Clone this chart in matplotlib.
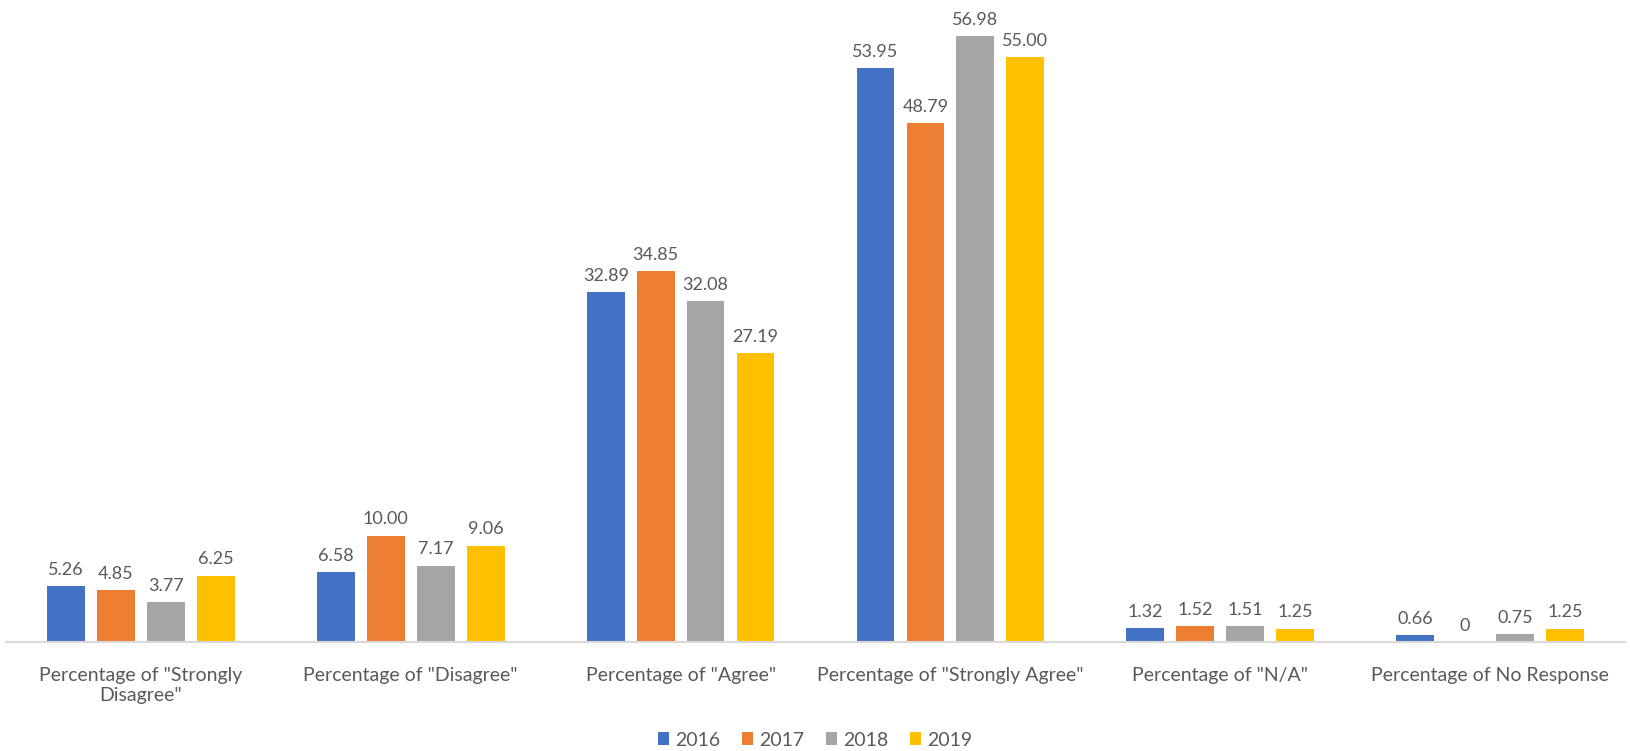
import numpy as np
import matplotlib.pyplot as plt

plt.rcParams['font.family'] = ['Lato', 'DejaVu Sans']

categories = ['Percentage of "Strongly\nDisagree"', 'Percentage of "Disagree"',
              'Percentage of "Agree"', 'Percentage of "Strongly Agree"',
              'Percentage of "N/A"', 'Percentage of No Response']
years = ['2016', '2017', '2018', '2019']
v2016 = [5.26, 6.58, 32.89, 53.95, 1.32, 0.66]
v2017 = [4.85, 10.00, 34.85, 48.79, 1.52, 0]
v2018 = [3.77, 7.17, 32.08, 56.98, 1.51, 0.75]
v2019 = [6.25, 9.06, 27.19, 55.00, 1.25, 1.25]
labels2017 = ['4.85', '10.00', '34.85', '48.79', '1.52', '0']

series = [v2016, v2017, v2018, v2019]
colors = ['#4472C4', '#ED7D31', '#A5A5A5', '#FFC000']
txt = '#595959'

fig = plt.figure(figsize=(16.31, 7.51), dpi=100)
ax = fig.add_axes([6/1631, 1 - 642/751, 1619/1631, 638/751])

x = np.arange(len(categories))
pitch = 0.185
w = 0.14
for i, (vals, col, yr) in enumerate(zip(series, colors, years)):
    pos = x + (i - 1.5) * pitch
    bars = ax.bar(pos, vals, width=w, color=col, label=yr, zorder=2)
    if i == 1:
        labs = labels2017
    else:
        labs = ['%.2f' % v for v in vals]
    ax.bar_label(bars, labels=labs, padding=6, fontsize=13, color=txt)

ax.set_xlim(-0.5, len(categories) - 0.5)
ax.set_ylim(0, 60)
ax.set_yticks([])
ax.set_xticks(x)
ax.set_xticklabels(categories, fontsize=14, color=txt, linespacing=1.25)
ax.tick_params(axis='x', length=0, pad=18)
for s in ['top', 'right', 'left']:
    ax.spines[s].set_visible(False)
ax.spines['bottom'].set_color('#D9D9D9')
ax.spines['bottom'].set_linewidth(1.5)

fig.legend(loc='center', bbox_to_anchor=(815/1631, 1 - 740/751), ncol=4, frameon=False,
           fontsize=14, handlelength=0.6, handleheight=0.6, handletextpad=0.3,
           columnspacing=1.1, labelcolor=txt)

plt.savefig('out.png')
